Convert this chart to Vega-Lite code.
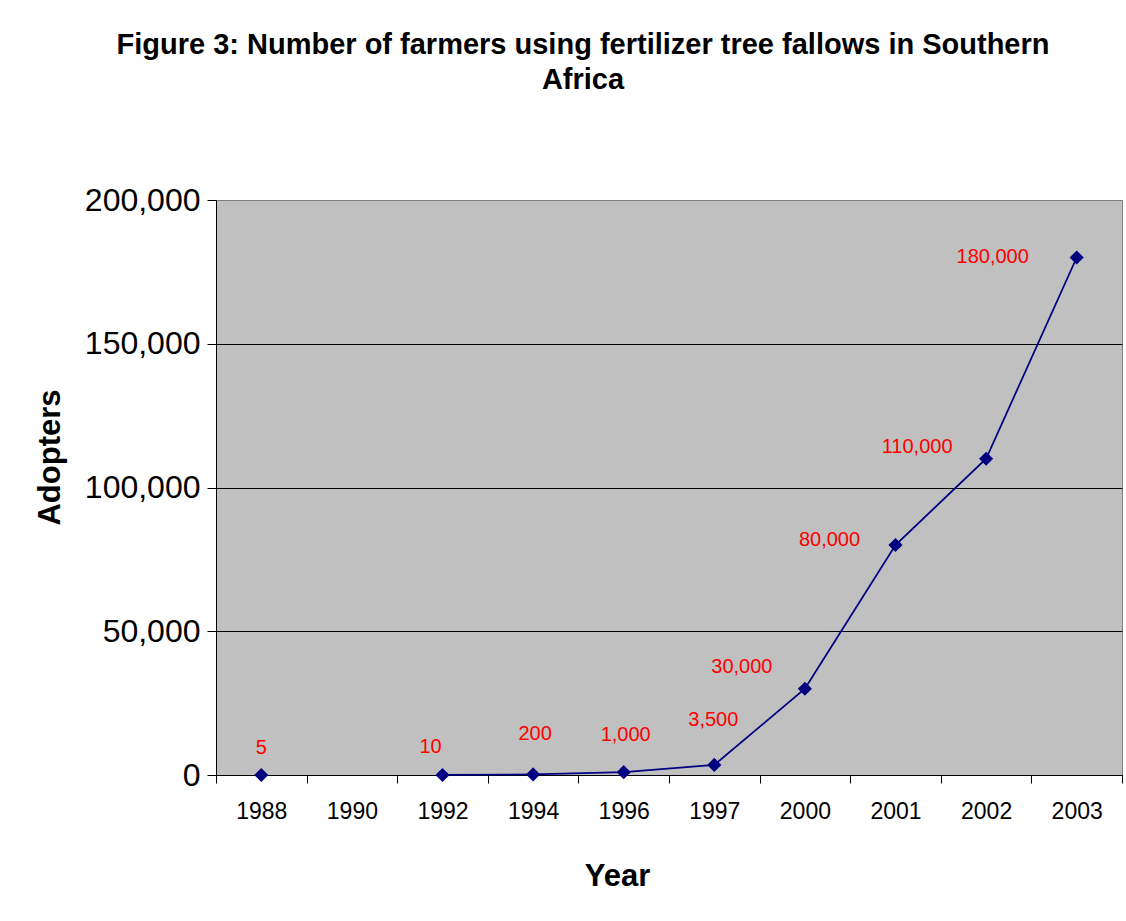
{
  "$schema": "https://vega.github.io/schema/vega-lite/v6.json",
  "width": 906,
  "height": 575,
  "autosize": {"type": "none"},
  "padding": {"left": 216, "top": 200, "right": 4, "bottom": 146},
  "background": "white",
  "title": {
    "text": ["Figure 3: Number of farmers using fertilizer tree fallows in Southern", "Africa"],
    "font": "Liberation Sans",
    "fontSize": 29,
    "fontWeight": "bold",
    "color": "black",
    "lineHeight": 35,
    "anchor": "middle",
    "dx": -86,
    "offset": 89
  },
  "config": {
    "view": {"fill": "#C0C0C0", "stroke": "#808080", "strokeWidth": 1},
    "axis": {"labelFont": "Liberation Sans", "titleFont": "Liberation Sans", "labelColor": "black", "titleColor": "black", "domainColor": "black", "tickColor": "black"}
  },
  "data": {
    "values": [
      {"year": "1988", "adopters": 5},
      {"year": "1990", "adopters": null},
      {"year": "1992", "adopters": 10},
      {"year": "1994", "adopters": 200},
      {"year": "1996", "adopters": 1000},
      {"year": "1997", "adopters": 3500},
      {"year": "2000", "adopters": 30000},
      {"year": "2001", "adopters": 80000},
      {"year": "2002", "adopters": 110000},
      {"year": "2003", "adopters": 180000}
    ]
  },
  "encoding": {
    "x": {
      "field": "year", "type": "ordinal",
      "scale": {"domain": ["1988", "1990", "1992", "1994", "1996", "1997", "2000", "2001", "2002", "2003"], "paddingInner": 0, "paddingOuter": 0},
      "axis": {
        "title": "Year", "titleFontSize": 31, "titleFontWeight": "bold",
        "titleX": 401, "titleY": 101, "titleBaseline": "middle", "titleAlign": "center",
        "labelAngle": 0, "labelFontSize": 23, "labelPadding": 17,
        "tickBand": "extent", "tickSize": 8, "tickWidth": 1, "domainWidth": 1, "grid": false
      }
    },
    "y": {
      "field": "adopters", "type": "quantitative",
      "scale": {"domain": [0, 200000], "nice": false},
      "axis": {
        "title": "Adopters", "titleFontSize": 31, "titleFontWeight": "bold",
        "titleX": -166, "titleY": 257, "titleBaseline": "middle", "titleAlign": "center", "titleAngle": 270,
        "values": [0, 50000, 100000, 150000, 200000],
        "labelExpr": "format(datum.value, ',')",
        "labelFontSize": 32, "labelPadding": 7, "tickSize": 9, "tickWidth": 1, "domainWidth": 1,
        "grid": true, "gridWidth": 1,
        "gridColor": {"condition": {"test": "datum.value === 200000", "value": "#808080"}, "value": "black"}
      }
    }
  },
  "layer": [
    {
      "transform": [{"filter": "datum.adopters != null && datum.year != '1988'"}],
      "mark": {"type": "line", "color": "#000080", "strokeWidth": 1.8}
    },
    {
      "transform": [{"filter": "datum.adopters != null"}],
      "mark": {"type": "point", "shape": "diamond", "filled": true, "color": "#000080", "size": 200, "opacity": 1}
    },
    {"transform": [{"filter": "datum.year == '1988'"}], "mark": {"type": "text", "color": "#FF0000", "font": "Liberation Sans", "fontSize": 20, "baseline": "middle", "align": "center", "dx": 0, "dy": -27}, "encoding": {"text": {"field": "adopters", "type": "quantitative", "format": ","}}},
    {"transform": [{"filter": "datum.year == '1992'"}], "mark": {"type": "text", "color": "#FF0000", "font": "Liberation Sans", "fontSize": 20, "baseline": "middle", "align": "center", "dx": -12, "dy": -28}, "encoding": {"text": {"field": "adopters", "type": "quantitative", "format": ","}}},
    {"transform": [{"filter": "datum.year == '1994'"}], "mark": {"type": "text", "color": "#FF0000", "font": "Liberation Sans", "fontSize": 20, "baseline": "middle", "align": "center", "dx": 2, "dy": -40}, "encoding": {"text": {"field": "adopters", "type": "quantitative", "format": ","}}},
    {"transform": [{"filter": "datum.year == '1996'"}], "mark": {"type": "text", "color": "#FF0000", "font": "Liberation Sans", "fontSize": 20, "baseline": "middle", "align": "center", "dx": 2, "dy": -37}, "encoding": {"text": {"field": "adopters", "type": "quantitative", "format": ","}}},
    {"transform": [{"filter": "datum.year == '1997'"}], "mark": {"type": "text", "color": "#FF0000", "font": "Liberation Sans", "fontSize": 20, "baseline": "middle", "align": "center", "dx": -1, "dy": -45}, "encoding": {"text": {"field": "adopters", "type": "quantitative", "format": ","}}},
    {"transform": [{"filter": "datum.year == '2000'"}], "mark": {"type": "text", "color": "#FF0000", "font": "Liberation Sans", "fontSize": 20, "baseline": "middle", "align": "center", "dx": -63, "dy": -22}, "encoding": {"text": {"field": "adopters", "type": "quantitative", "format": ","}}},
    {"transform": [{"filter": "datum.year == '2001'"}], "mark": {"type": "text", "color": "#FF0000", "font": "Liberation Sans", "fontSize": 20, "baseline": "middle", "align": "center", "dx": -66, "dy": -5}, "encoding": {"text": {"field": "adopters", "type": "quantitative", "format": ","}}},
    {"transform": [{"filter": "datum.year == '2002'"}], "mark": {"type": "text", "color": "#FF0000", "font": "Liberation Sans", "fontSize": 20, "baseline": "middle", "align": "center", "dx": -69, "dy": -12}, "encoding": {"text": {"field": "adopters", "type": "quantitative", "format": ","}}},
    {"transform": [{"filter": "datum.year == '2003'"}], "mark": {"type": "text", "color": "#FF0000", "font": "Liberation Sans", "fontSize": 20, "baseline": "middle", "align": "center", "dx": -84, "dy": -1}, "encoding": {"text": {"field": "adopters", "type": "quantitative", "format": ","}}}
  ]
}
